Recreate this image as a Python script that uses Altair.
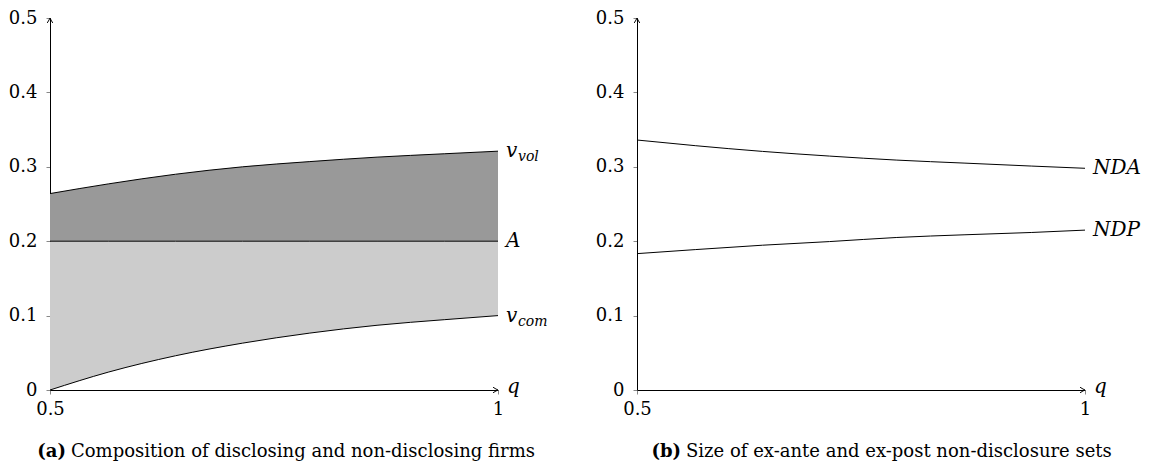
import altair as alt
import pandas as pd

# ---- data ----
q = [0.5, 0.565, 0.64, 0.715, 0.79, 0.865, 0.94, 1.0]
v_vol = [0.264, 0.277, 0.290, 0.300, 0.307, 0.313, 0.3175, 0.321]
v_com = [0.0, 0.024, 0.046, 0.063, 0.0765, 0.087, 0.0945, 0.1]
A_level = 0.2
nda = [0.336, 0.3284, 0.3207, 0.3144, 0.309, 0.305, 0.301, 0.298]
ndp = [0.1833, 0.1887, 0.1946, 0.1995, 0.205, 0.2086, 0.2117, 0.2149]
x_ticks = [0.5, 1.0]
y_ticks = [0.0, 0.1, 0.2, 0.3, 0.4, 0.5]
title_a = ["(a)", "Composition of disclosing and non-disclosing firms"]
title_b = ["(b)", "Size of ex-ante and ex-post non-disclosure sets"]

SERIF = "DejaVu Serif, serif"
W, H = 448, 372

left_df = pd.DataFrame({"q": q, "v_vol": v_vol, "v_com": v_com,
                        "A": [A_level] * len(q)})
right_df = pd.DataFrame({"q": q * 2, "v": nda + ndp,
                         "s": ["NDA"] * len(q) + ["NDP"] * len(q)})

xscale = alt.Scale(domain=[x_ticks[0], x_ticks[-1]], nice=False, zero=False)
yscale = alt.Scale(domain=[y_ticks[0], y_ticks[-1]], nice=False, zero=True)
xaxis = alt.Axis(values=x_ticks, format="~g", title=None, grid=False, labelFlush=False)
yaxis = alt.Axis(values=y_ticks, format="~g", title=None, grid=False, labelFlush=False)

ARROW_R = "M -1.8 -1 Q -0.6 -0.25 0 0 Q -0.6 0.25 -1.8 1"
ARROW_U = "M -1 1.8 Q -0.25 0.6 0 0 Q 0.25 0.6 1 1.8"


def arrows():
    ax = pd.DataFrame({"q": [x_ticks[-1]], "v": [y_ticks[0]]})
    ay = pd.DataFrame({"q": [x_ticks[0]], "v": [y_ticks[-1]]})
    r = alt.Chart(ax).mark_point(shape=ARROW_R, filled=False, stroke="black",
                                 strokeWidth=1, size=30, opacity=1).encode(
        x=alt.X("q:Q", scale=xscale), y=alt.Y("v:Q", scale=yscale))
    u = alt.Chart(ay).mark_point(shape=ARROW_U, filled=False, stroke="black",
                                 strokeWidth=1, size=30, opacity=1).encode(
        x=alt.X("q:Q", scale=xscale), y=alt.Y("v:Q", scale=yscale))
    ql = alt.Chart(ax).mark_text(text="q", font=SERIF, fontStyle="italic",
                                 fontSize=20, align="left", baseline="middle",
                                 dx=9, dy=-3).encode(
        x=alt.X("q:Q", scale=xscale), y=alt.Y("v:Q", scale=yscale))
    return r + u + ql


def caption(parts, xpx):
    d1 = pd.DataFrame({"t": [parts[0]]})
    d2 = pd.DataFrame({"t": [parts[1]]})
    c1 = alt.Chart(d1).mark_text(font=SERIF, fontSize=18, fontWeight="bold",
                                 align="right", baseline="middle").encode(
        text="t:N", x=alt.value(xpx), y=alt.value(434))
    c2 = alt.Chart(d2).mark_text(font=SERIF, fontSize=18, align="left",
                                 baseline="middle").encode(
        text="t:N", x=alt.value(xpx + 5), y=alt.value(434))
    return c1 + c2


# ---- left panel ----
base_l = alt.Chart(left_df)
dark = base_l.mark_area(color="#999999", interpolate="monotone").encode(
    x=alt.X("q:Q", scale=xscale, axis=xaxis),
    y=alt.Y("v_vol:Q", scale=yscale, axis=yaxis),
    y2="A:Q")
light = base_l.mark_area(color="#cccccc", interpolate="monotone").encode(
    x=alt.X("q:Q", scale=xscale), y=alt.Y("v_com:Q", scale=yscale), y2="A:Q")
lines_l = base_l.transform_fold(["v_vol", "v_com", "A"], as_=["k", "v"]).mark_line(
    color="black", strokeWidth=1, interpolate="monotone").encode(
    x=alt.X("q:Q", scale=xscale), y=alt.Y("v:Q", scale=yscale), detail="k:N")

lab_df = pd.DataFrame({"q": [q[-1]] * 3, "v": [v_vol[-1], A_level, v_com[-1]],
                       "main": ["v", "A", "v"], "sub": ["vol", "", "com"]})
lab_main = alt.Chart(lab_df).mark_text(font=SERIF, fontStyle="italic", fontSize=20,
                                       align="left", baseline="middle", dx=8).encode(
    x=alt.X("q:Q", scale=xscale), y=alt.Y("v:Q", scale=yscale), text="main:N")
lab_sub = alt.Chart(lab_df).mark_text(font=SERIF, fontStyle="italic", fontSize=14,
                                      align="left", baseline="middle", dx=20, dy=6).encode(
    x=alt.X("q:Q", scale=xscale), y=alt.Y("v:Q", scale=yscale), text="sub:N")

left = alt.layer(dark, light, lines_l, lab_main, lab_sub, arrows(),
                 caption(title_a, 16)).properties(width=W, height=H)

# ---- right panel ----
lines_r = alt.Chart(right_df).mark_line(color="black", strokeWidth=1,
                                        interpolate="monotone").encode(
    x=alt.X("q:Q", scale=xscale, axis=xaxis),
    y=alt.Y("v:Q", scale=yscale, axis=yaxis), detail="s:N")
rlab_df = pd.DataFrame({"q": [q[-1]] * 2, "v": [nda[-1], ndp[-1]], "s": ["NDA", "NDP"]})
rlab = alt.Chart(rlab_df).mark_text(font=SERIF, fontStyle="italic", fontSize=20,
                                    align="left", baseline="middle", dx=8).encode(
    x=alt.X("q:Q", scale=xscale), y=alt.Y("v:Q", scale=yscale), text="s:N")

right = alt.layer(lines_r, rlab, arrows(), caption(title_b, 44)).properties(
    width=W, height=H)

chart = alt.hconcat(left, right, spacing=47).properties(
    padding={"left": 0, "top": 1, "right": 0, "bottom": 0}
).configure_view(stroke=None).configure_axis(
    domainColor="black", domainWidth=1, tickColor="#888888", tickWidth=1,
    tickSize=4, labelFont=SERIF, labelFontSize=18, labelColor="black",
    labelPadding=8
).configure_axisY(labelPadding=9).configure_axisX(labelPadding=6)

chart.save("out.html", embed_options={"renderer": "svg", "actions": False})
